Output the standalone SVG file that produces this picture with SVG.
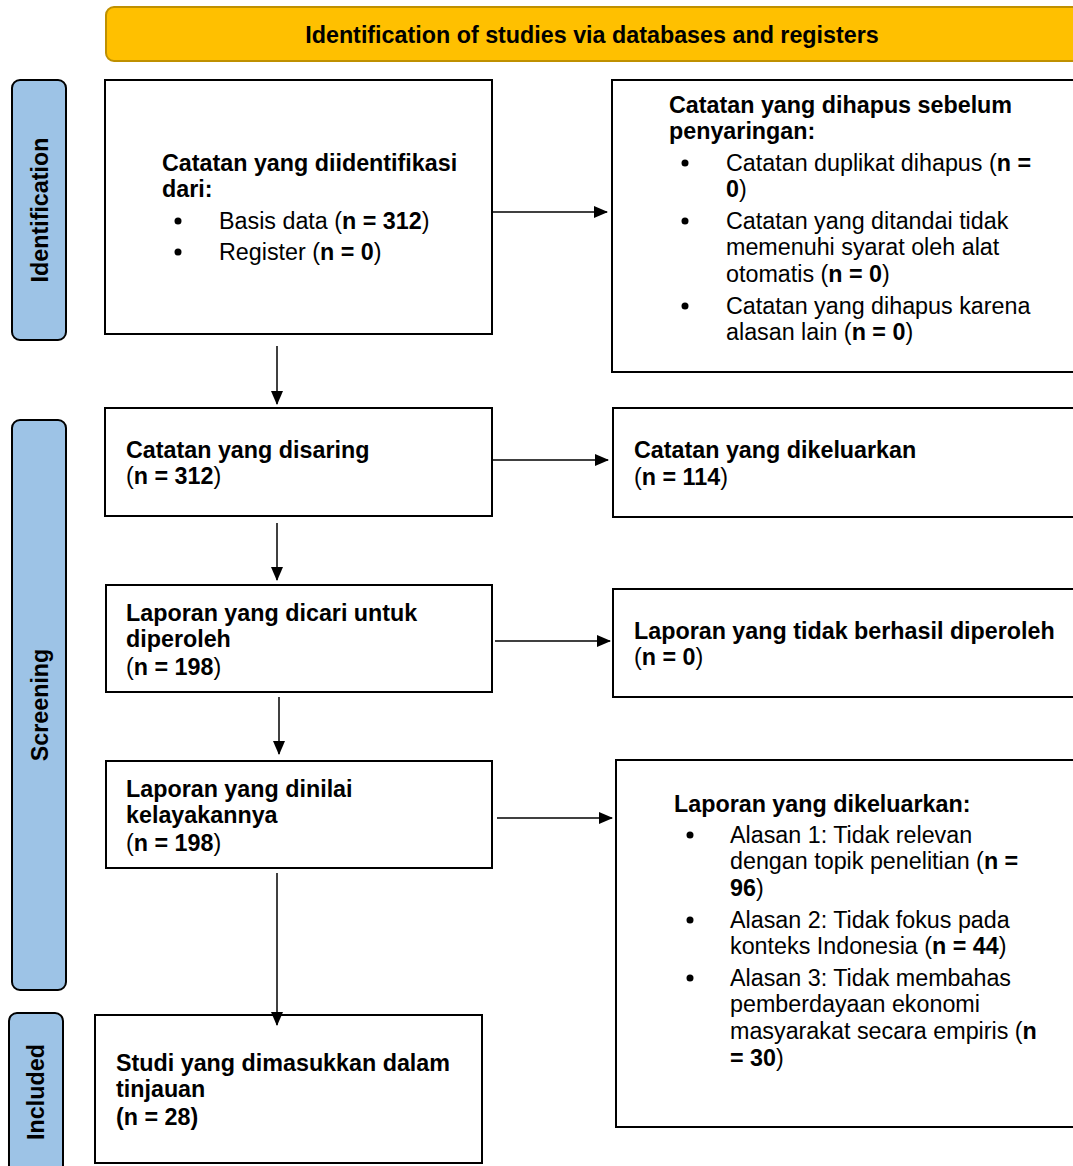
<svg xmlns="http://www.w3.org/2000/svg" width="1073" height="1166" viewBox="0 0 1073 1166">
<style>
text{font-family:"Liberation Sans",Arial,sans-serif;font-size:23.3px;fill:#000}
.b{font-weight:bold}
.box{fill:#fff;stroke:#000;stroke-width:2}
.side{fill:#9DC3E6;stroke:#000;stroke-width:2}
.conn{stroke:#000;stroke-width:1.5;fill:none}
</style>
<defs>
<marker id="ah" markerWidth="14" markerHeight="12" refX="13" refY="6" orient="auto" markerUnits="userSpaceOnUse">
<path d="M0,0 L14,6 L0,12 Z" fill="#000"/>
</marker>
</defs>

<g id="banner">
<rect x="106" y="7" width="985" height="54" rx="8" fill="#FFC000" stroke="#BF9000" stroke-width="2"/>
<text class="b" x="592" y="43" text-anchor="middle">Identification of studies via databases and registers</text>
</g>

<g id="side-identification">
<rect class="side" x="12" y="80" width="54" height="260" rx="8"/>
<text class="b" transform="translate(48,210) rotate(-90)" text-anchor="middle">Identification</text>
</g>
<g id="side-screening">
<rect class="side" x="12" y="420" width="54" height="570" rx="8"/>
<text class="b" transform="translate(48,705) rotate(-90)" text-anchor="middle">Screening</text>
</g>
<g id="side-included">
<rect class="side" x="9" y="1013" width="54" height="165" rx="8"/>
<text class="b" transform="translate(44,1092) rotate(-90)" text-anchor="middle">Included</text>
</g>

<g id="n1">
<rect class="box" x="105" y="80" width="387" height="254"/>
<text class="b" x="162" y="171">Catatan yang diidentifikasi</text>
<text class="b" x="162" y="197">dari:</text>
<circle cx="178" cy="221" r="3.5"/>
<text x="219" y="229">Basis data (<tspan class="b">n = 312</tspan>)</text>
<circle cx="178" cy="252" r="3.5"/>
<text x="219" y="260">Register (<tspan class="b">n = 0</tspan>)</text>
</g>

<g id="n1r">
<rect class="box" x="612" y="80" width="480" height="292"/>
<text class="b" x="669" y="113">Catatan yang dihapus sebelum</text>
<text class="b" x="669" y="139">penyaringan:</text>
<circle cx="685" cy="163" r="3.5"/>
<text x="726" y="171">Catatan duplikat dihapus (<tspan class="b">n =</tspan></text>
<text x="726" y="197"><tspan class="b">0</tspan>)</text>
<circle cx="685" cy="221" r="3.5"/>
<text x="726" y="229">Catatan yang ditandai tidak</text>
<text x="726" y="255">memenuhi syarat oleh alat</text>
<text x="726" y="282">otomatis (<tspan class="b">n = 0</tspan>)</text>
<circle cx="685" cy="306" r="3.5"/>
<text x="726" y="314">Catatan yang dihapus karena</text>
<text x="726" y="340">alasan lain (<tspan class="b">n = 0</tspan>)</text>
</g>

<g id="n2">
<rect class="box" x="105" y="408" width="387" height="108"/>
<text class="b" x="126" y="458">Catatan yang disaring</text>
<text x="126" y="484">(<tspan class="b">n = 312</tspan>)</text>
</g>

<g id="n2r">
<rect class="box" x="613" y="408" width="480" height="109"/>
<text class="b" x="634" y="458">Catatan yang dikeluarkan</text>
<text x="634" y="485">(<tspan class="b">n = 114</tspan>)</text>
</g>

<g id="n3">
<rect class="box" x="106" y="585" width="386" height="107"/>
<text class="b" x="126" y="621">Laporan yang dicari untuk</text>
<text class="b" x="126" y="647">diperoleh</text>
<text x="126" y="675">(<tspan class="b">n = 198</tspan>)</text>
</g>

<g id="n3r">
<rect class="box" x="613" y="589" width="480" height="108"/>
<text class="b" x="634" y="639">Laporan yang tidak berhasil diperoleh</text>
<text x="634" y="665">(<tspan class="b">n = 0</tspan>)</text>
</g>

<g id="n4">
<rect class="box" x="106" y="761" width="386" height="107"/>
<text class="b" x="126" y="797">Laporan yang dinilai</text>
<text class="b" x="126" y="823">kelayakannya</text>
<text x="126" y="851">(<tspan class="b">n = 198</tspan>)</text>
</g>

<g id="n4r">
<rect class="box" x="616" y="760" width="480" height="367"/>
<text class="b" x="674" y="812">Laporan yang dikeluarkan:</text>
<circle cx="690" cy="835" r="3.5"/>
<text x="730" y="843">Alasan 1: Tidak relevan</text>
<text x="730" y="869">dengan topik penelitian (<tspan class="b">n =</tspan></text>
<text x="730" y="896"><tspan class="b">96</tspan>)</text>
<circle cx="690" cy="920" r="3.5"/>
<text x="730" y="928">Alasan 2: Tidak fokus pada</text>
<text x="730" y="954">konteks Indonesia (<tspan class="b">n = 44</tspan>)</text>
<circle cx="690" cy="978" r="3.5"/>
<text x="730" y="986">Alasan 3: Tidak membahas</text>
<text x="730" y="1012">pemberdayaan ekonomi</text>
<text x="730" y="1039">masyarakat secara empiris (<tspan class="b">n</tspan></text>
<text x="730" y="1066"><tspan class="b">= 30</tspan>)</text>
</g>

<g id="n5">
<rect class="box" x="95" y="1015" width="387" height="148"/>
<text class="b" x="116" y="1071">Studi yang dimasukkan dalam</text>
<text class="b" x="116" y="1097">tinjauan</text>
<text class="b" x="116" y="1125">(n = 28)</text>
</g>

<g id="connectors">
<line class="conn" x1="493" y1="212" x2="607" y2="212" marker-end="url(#ah)"/>
<line class="conn" x1="277" y1="346" x2="277" y2="404" marker-end="url(#ah)"/>
<line class="conn" x1="493" y1="460" x2="608" y2="460" marker-end="url(#ah)"/>
<line class="conn" x1="277" y1="523" x2="277" y2="580" marker-end="url(#ah)"/>
<line class="conn" x1="495" y1="641" x2="610" y2="641" marker-end="url(#ah)"/>
<line class="conn" x1="279" y1="697" x2="279" y2="754" marker-end="url(#ah)"/>
<line class="conn" x1="497" y1="818" x2="612" y2="818" marker-end="url(#ah)"/>
<line class="conn" x1="277" y1="873" x2="277" y2="1025" marker-end="url(#ah)"/>
</g>
</svg>
